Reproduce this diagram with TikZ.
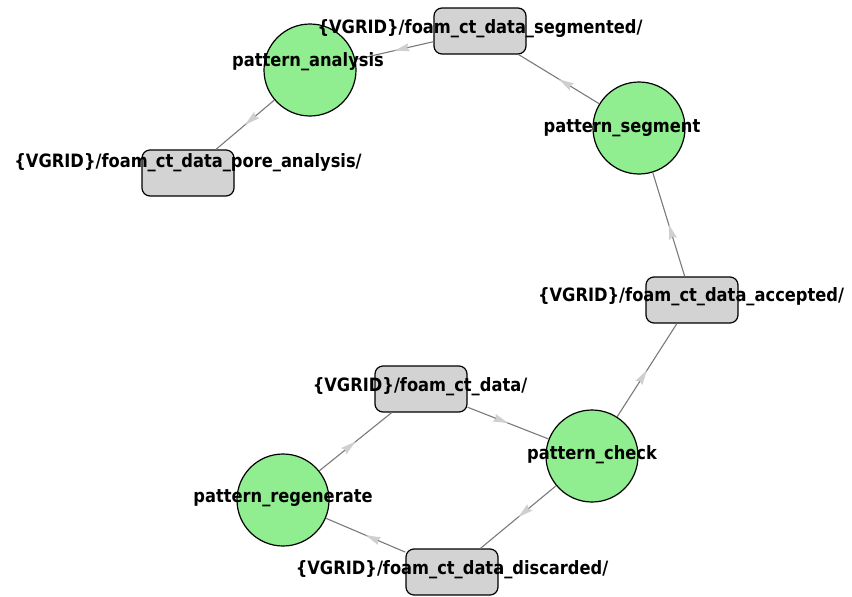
\documentclass[tikz,border=0pt]{standalone}
\usepackage{fontspec}
\setmainfont{DejaVu Sans}
\usetikzlibrary{decorations.markings,arrows.meta}
\definecolor{taskgreen}{HTML}{90EE90}
\definecolor{datagrey}{HTML}{D3D3D3}
\definecolor{edgegrey}{HTML}{7A7A7A}
\definecolor{tipgrey}{HTML}{CFCFCF}
\newcommand{\gtxt}[1]{\scalebox{0.93}[1.05]{\bfseries\fontsize{17.5}{18}\selectfont #1}}
\begin{document}
\begin{tikzpicture}[x=1pt,y=-1pt,
  task/.style={circle,draw=black,line width=1.2pt,fill=taskgreen,minimum size=92pt,inner sep=0pt},
  store/.style={rectangle,rounded corners=8pt,draw=black,line width=1.2pt,fill=datagrey,minimum width=92pt,minimum height=46pt,inner sep=0pt},
  lbl/.style={inner sep=0pt,text=black},
  flow/.style={draw=edgegrey,line width=1.1pt,postaction={decorate},
    decoration={markings,mark=at position 0.5 with {\arrow{Stealth[length=15pt,width=8pt,inset=2pt,color=tipgrey]}}}}
]
\useasboundingbox (0,0) rectangle (852,597);
\fill[white] (0,0) rectangle (852,597);

% process nodes
\node[task]  (analysis)   at (310,70)  {};
\node[task]  (segment)    at (639,128) {};
\node[task]  (check)      at (592,456) {};
\node[task]  (regen)      at (283,500) {};

% data locations
\node[store] (segmented)  at (480,31)  {};
\node[store] (pore)       at (188,173) {};
\node[store] (accepted)   at (692,300) {};
\node[store] (rawdata)    at (421,389) {};
\node[store] (discarded)  at (452,572) {};

% data flow between processes and locations
\draw[flow] (rawdata)   -- (check);
\draw[flow] (check)     -- (accepted);
\draw[flow] (check)     -- (discarded);
\draw[flow] (accepted)  -- (segment);
\draw[flow] (segment)   -- (segmented);
\draw[flow] (segmented) -- (analysis);
\draw[flow] (analysis)  -- (pore);
\draw[flow] (discarded) -- (regen);
\draw[flow] (regen)     -- (rawdata);

% labels
\node[lbl] (l-analysis)  at (308,62)  {\gtxt{pattern\_analysis}};
\node[lbl] (l-segment)   at (622,128) {\gtxt{pattern\_segment}};
\node[lbl] (l-check)     at (592,455) {\gtxt{pattern\_check}};
\node[lbl] (l-regen)     at (283,498) {\gtxt{pattern\_regenerate}};
\node[lbl] (l-segmented) at (480,29)  {\gtxt{\{VGRID\}/foam\_ct\_data\_segmented/}};
\node[lbl] (l-pore)      at (188,163) {\gtxt{\{VGRID\}/foam\_ct\_data\_pore\_analysis/}};
\node[lbl] (l-accepted)  at (691,297) {\gtxt{\{VGRID\}/foam\_ct\_data\_accepted/}};
\node[lbl] (l-rawdata)   at (420,387) {\gtxt{\{VGRID\}/foam\_ct\_data/}};
\node[lbl] (l-discarded) at (452,570) {\gtxt{\{VGRID\}/foam\_ct\_data\_discarded/}};
\end{tikzpicture}
\end{document}
